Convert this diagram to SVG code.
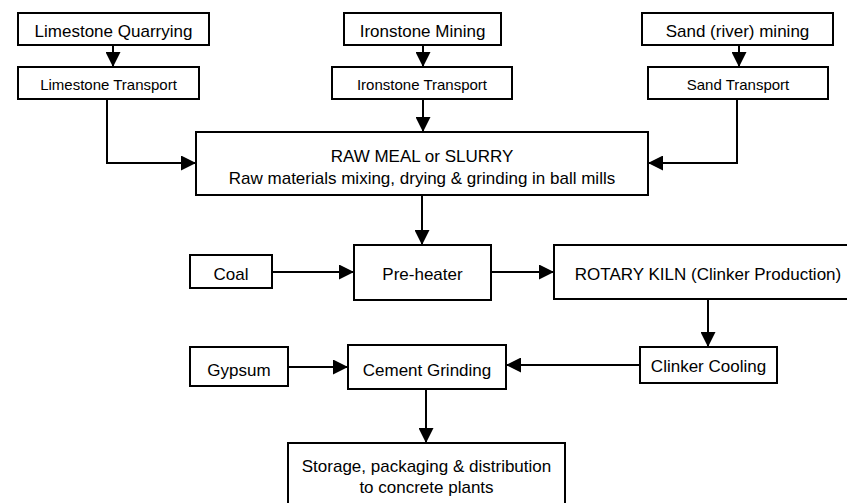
<svg xmlns="http://www.w3.org/2000/svg" width="847" height="503" viewBox="0 0 847 503">
<style>
.box{fill:#fff;stroke:#000;stroke-width:2}
.t{font-family:"Liberation Sans",Arial,sans-serif;font-size:17px;fill:#000;text-anchor:middle}
.s{font-size:15px}
.c{fill:none;stroke:#000;stroke-width:2}
</style>
<defs>
<marker id="ah" markerUnits="userSpaceOnUse" markerWidth="15" markerHeight="15" refX="15" refY="7.5" orient="auto">
<path d="M0,0 L15,7.5 L0,15 z" fill="#000"/>
</marker>
</defs>
<rect width="847" height="503" fill="#fff"/>
<g id="connectors">
<path class="c" d="M113,45 V67" marker-end="url(#ah)"/>
<path class="c" d="M423,45 V67" marker-end="url(#ah)"/>
<path class="c" d="M739,45 V67" marker-end="url(#ah)"/>
<path class="c" d="M107,99 V163 H196" marker-end="url(#ah)"/>
<path class="c" d="M423,99 V132" marker-end="url(#ah)"/>
<path class="c" d="M737,99 V163 H648" marker-end="url(#ah)"/>
<path class="c" d="M422,195 V245" marker-end="url(#ah)"/>
<path class="c" d="M272,272 H354" marker-end="url(#ah)"/>
<path class="c" d="M491,272 H554" marker-end="url(#ah)"/>
<path class="c" d="M708,299 V347" marker-end="url(#ah)"/>
<path class="c" d="M640,365 H506" marker-end="url(#ah)"/>
<path class="c" d="M288,367 H348" marker-end="url(#ah)"/>
<path class="c" d="M426,389 V443" marker-end="url(#ah)"/>
</g>
<g id="limestone-quarrying"><rect class="box" x="18" y="13" width="191" height="32"/><text class="t" x="113.5" y="37">Limestone Quarrying</text></g>
<g id="limestone-transport"><rect class="box" x="18" y="67" width="181" height="32"/><text class="t s" x="108.5" y="90">Limestone  Transport</text></g>
<g id="ironstone-mining"><rect class="box" x="344" y="13" width="157" height="32"/><text class="t" x="422.5" y="37">Ironstone Mining</text></g>
<g id="ironstone-transport"><rect class="box" x="332" y="67" width="180" height="32"/><text class="t s" x="422" y="90">Ironstone Transport</text></g>
<g id="sand-mining"><rect class="box" x="642" y="13" width="191" height="32"/><text class="t" x="737.5" y="37">Sand (river) mining</text></g>
<g id="sand-transport"><rect class="box" x="648" y="67" width="180" height="32"/><text class="t s" x="738" y="90">Sand Transport</text></g>
<g id="raw-meal"><rect class="box" x="196" y="132" width="452" height="63"/><text class="t" x="422" y="162">RAW MEAL or SLURRY</text><text class="t" x="422" y="184">Raw materials mixing, drying &amp; grinding in ball mills</text></g>
<g id="coal"><rect class="box" x="190" y="255" width="82" height="33"/><text class="t" x="231" y="280">Coal</text></g>
<g id="pre-heater"><rect class="box" x="354" y="245" width="137" height="55"/><text class="t" x="422.5" y="280">Pre-heater</text></g>
<g id="rotary-kiln"><rect class="box" x="554" y="245" width="308" height="54"/><text class="t" x="708" y="280">ROTARY KILN (Clinker Production)</text></g>
<g id="clinker-cooling"><rect class="box" x="640" y="347" width="137" height="36"/><text class="t" x="708.5" y="372">Clinker Cooling</text></g>
<g id="gypsum"><rect class="box" x="190" y="347" width="98" height="39"/><text class="t" x="239" y="376">Gypsum</text></g>
<g id="cement-grinding"><rect class="box" x="348" y="345" width="158" height="44"/><text class="t" x="427" y="376">Cement Grinding</text></g>
<g id="storage"><rect class="box" x="288" y="443" width="277" height="70"/><text class="t" x="426.5" y="472">Storage, packaging &amp; distribution</text><text class="t" x="426.5" y="493">to concrete plants</text></g>
</svg>
